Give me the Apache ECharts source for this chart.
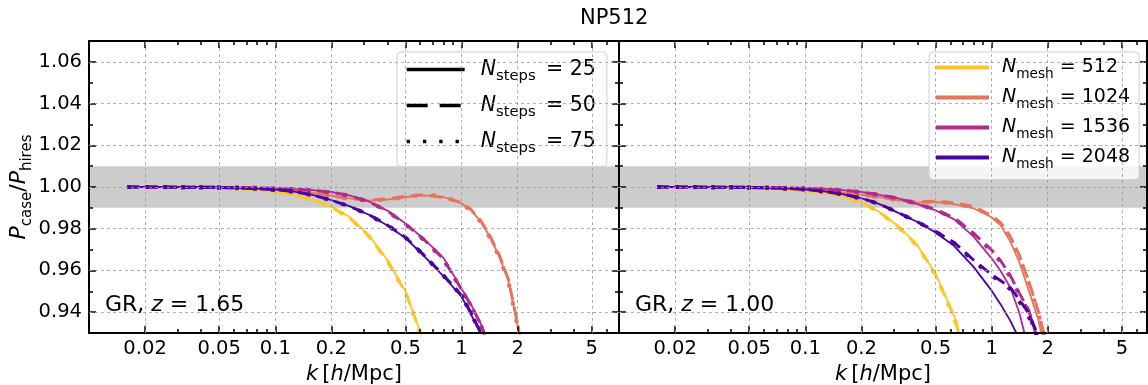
<!DOCTYPE html>
<html>
<head>
<meta charset="utf-8">
<script src="https://cdn.jsdelivr.net/npm/echarts@6/dist/echarts.min.js"></script>
<style>
  html, body { margin: 0; padding: 0; background: #fff; }
  #chart { width: 1148px; height: 385px; }
</style>
</head>
<body>
<div id="chart"></div>
<script>
// Wavenumber bins shared by every curve, in h/Mpc
const kBins = [0.016, 0.02, 0.025, 0.032, 0.04, 0.05, 0.063, 0.08, 0.1, 0.126, 0.158, 0.2, 0.25, 0.316, 0.4, 0.5, 0.63, 0.8, 1.0, 1.12, 1.26, 1.41, 1.58, 1.78, 2.0, 2.24];

const meshLabels = ['512', '1024', '1536', '2048'];
const stepLabels = ['25', '50', '75'];
const meshColors = ['#fcc626', '#e8725a', '#b12a90', '#4a04a0'];
const redshiftLabels = ['1.65', '1.00'];

const xMajorTicks = [0.02, 0.05, 0.1, 0.2, 0.5, 1, 2, 5];
const xMinorTicks = [0.03, 0.04, 0.06, 0.07, 0.08, 0.09, 0.3, 0.4, 0.6, 0.7, 0.8, 0.9, 3, 4, 6, 7];
const yMajorTicks = [0.94, 0.96, 0.98, 1.00, 1.02, 1.04, 1.06];
const yMinorTicks = [0.95, 0.97, 0.99, 1.01, 1.03, 1.05];

// P_case / P_hires at z = 1.65
const z165_512_s25 = [1.0000,1.0000,0.9999,0.9999,0.9998,0.9996,0.9993,0.9988,0.9979,0.9964,0.9940,0.9906,0.9857,0.9772,0.9650,0.9500,0.9255,0.8900,0.8500,0.8250,0.8000,0.7700,0.7400,0.7100,0.6800,0.6500];
const z165_512_s50 = [1.0000,1.0000,0.9999,0.9999,0.9998,0.9996,0.9993,0.9987,0.9978,0.9963,0.9938,0.9904,0.9853,0.9768,0.9646,0.9495,0.9250,0.8895,0.8495,0.8245,0.7995,0.7695,0.7395,0.7095,0.6795,0.6495];
const z165_512_s75 = [1.0000,1.0000,0.9999,0.9999,0.9998,0.9996,0.9992,0.9987,0.9978,0.9962,0.9938,0.9903,0.9852,0.9767,0.9644,0.9493,0.9248,0.8890,0.8490,0.8240,0.7990,0.7690,0.7390,0.7090,0.6790,0.6490];

const z165_1024_s25 = [1.0000,1.0000,0.9999,0.9999,0.9998,0.9997,0.9995,0.9993,0.9990,0.9983,0.9972,0.9958,0.9945,0.9935,0.9940,0.9952,0.9960,0.9952,0.9922,0.9890,0.9838,0.9765,0.9675,0.9555,0.9335,0.9050];
const z165_1024_s50 = [1.0000,1.0000,0.9999,0.9999,0.9998,0.9997,0.9995,0.9992,0.9989,0.9982,0.9971,0.9957,0.9944,0.9936,0.9943,0.9956,0.9963,0.9950,0.9925,0.9893,0.9842,0.9770,0.9682,0.9560,0.9345,0.9060];
const z165_1024_s75 = [1.0000,1.0000,0.9999,0.9999,0.9998,0.9997,0.9994,0.9992,0.9989,0.9981,0.9970,0.9956,0.9943,0.9934,0.9941,0.9950,0.9965,0.9955,0.9920,0.9888,0.9835,0.9762,0.9670,0.9550,0.9330,0.9045];

const z165_1536_s25 = [1.0000,1.0000,1.0000,0.9999,0.9999,0.9998,0.9997,0.9996,0.9994,0.9990,0.9985,0.9976,0.9960,0.9932,0.9887,0.9825,0.9750,0.9660,0.9512,0.9440,0.9350,0.9240,0.9110,0.8950,0.8750,0.8550];
const z165_1536_s50 = [1.0000,1.0000,1.0000,0.9999,0.9999,0.9998,0.9997,0.9996,0.9994,0.9990,0.9984,0.9975,0.9959,0.9931,0.9885,0.9822,0.9747,0.9655,0.9508,0.9436,0.9347,0.9238,0.9105,0.8945,0.8745,0.8545];
const z165_1536_s75 = [1.0000,1.0000,1.0000,0.9999,0.9999,0.9998,0.9997,0.9996,0.9993,0.9990,0.9984,0.9974,0.9958,0.9930,0.9884,0.9820,0.9745,0.9652,0.9505,0.9433,0.9344,0.9235,0.9100,0.8940,0.8740,0.8540];

const z165_2048_s25 = [1.0000,1.0000,1.0000,0.9999,0.9999,0.9998,0.9996,0.9992,0.9987,0.9978,0.9962,0.9937,0.9908,0.9868,0.9815,0.9756,0.9668,0.9572,0.9474,0.9392,0.9300,0.9210,0.9080,0.8930,0.8750,0.8550];
const z165_2048_s50 = [1.0000,1.0000,1.0000,0.9999,0.9999,0.9998,0.9996,0.9992,0.9987,0.9978,0.9962,0.9936,0.9908,0.9869,0.9817,0.9759,0.9672,0.9577,0.9480,0.9398,0.9306,0.9215,0.9085,0.8935,0.8755,0.8555];
const z165_2048_s75 = [1.0000,1.0000,1.0000,0.9999,0.9999,0.9998,0.9996,0.9991,0.9986,0.9977,0.9961,0.9936,0.9907,0.9868,0.9816,0.9758,0.9670,0.9575,0.9478,0.9396,0.9304,0.9213,0.9083,0.8933,0.8753,0.8553];

// P_case / P_hires at z = 1.00
const z100_512_s25 = [1.0000,1.0000,0.9999,0.9999,0.9998,0.9996,0.9993,0.9989,0.9983,0.9973,0.9958,0.9927,0.9880,0.9812,0.9720,0.9583,0.9380,0.9050,0.8700,0.8500,0.8250,0.8000,0.7700,0.7400,0.7100,0.6800];
const z100_512_s50 = [1.0000,1.0000,0.9999,0.9999,0.9998,0.9996,0.9993,0.9989,0.9982,0.9972,0.9957,0.9926,0.9879,0.9810,0.9718,0.9580,0.9377,0.9045,0.8695,0.8495,0.8245,0.7995,0.7695,0.7395,0.7095,0.6795];
const z100_512_s75 = [1.0000,1.0000,0.9999,0.9999,0.9998,0.9996,0.9992,0.9988,0.9982,0.9972,0.9956,0.9925,0.9878,0.9809,0.9716,0.9578,0.9374,0.9042,0.8690,0.8490,0.8240,0.7990,0.7690,0.7390,0.7090,0.6790];

const z100_1024_s25 = [1.0000,1.0000,0.9999,0.9999,0.9998,0.9997,0.9995,0.9993,0.9989,0.9983,0.9973,0.9962,0.9951,0.9936,0.9925,0.9928,0.9918,0.9898,0.9855,0.9815,0.9738,0.9638,0.9505,0.9365,0.9150,0.8900];
const z100_1024_s50 = [1.0000,1.0000,0.9999,0.9999,0.9998,0.9997,0.9995,0.9993,0.9989,0.9983,0.9973,0.9962,0.9952,0.9938,0.9928,0.9932,0.9924,0.9906,0.9862,0.9828,0.9762,0.9672,0.9548,0.9405,0.9220,0.9000];
const z100_1024_s75 = [1.0000,1.0000,0.9999,0.9999,0.9998,0.9997,0.9995,0.9992,0.9989,0.9982,0.9972,0.9961,0.9951,0.9937,0.9927,0.9930,0.9921,0.9903,0.9860,0.9825,0.9755,0.9665,0.9540,0.9395,0.9210,0.8990];

const z100_1536_s25 = [1.0000,1.0000,1.0000,0.9999,0.9999,0.9998,0.9997,0.9996,0.9994,0.9991,0.9985,0.9976,0.9962,0.9945,0.9918,0.9888,0.9845,0.9762,0.9658,0.9596,0.9518,0.9395,0.9220,0.9000,0.8800,0.8600];
const z100_1536_s50 = [1.0000,1.0000,1.0000,0.9999,0.9999,0.9998,0.9997,0.9996,0.9994,0.9991,0.9985,0.9976,0.9963,0.9945,0.9918,0.9893,0.9852,0.9778,0.9698,0.9645,0.9575,0.9490,0.9410,0.9260,0.9050,0.8800];
const z100_1536_s75 = [1.0000,1.0000,1.0000,0.9999,0.9999,0.9998,0.9997,0.9995,0.9994,0.9990,0.9984,0.9975,0.9962,0.9944,0.9918,0.9891,0.9849,0.9775,0.9692,0.9640,0.9568,0.9484,0.9400,0.9250,0.9040,0.8790];

const z100_2048_s25 = [1.0000,1.0000,1.0000,0.9999,0.9999,0.9998,0.9996,0.9993,0.9988,0.9979,0.9966,0.9946,0.9918,0.9876,0.9832,0.9782,0.9717,0.9617,0.9503,0.9436,0.9358,0.9270,0.9150,0.9000,0.8800,0.8600];
const z100_2048_s50 = [1.0000,1.0000,1.0000,0.9999,0.9999,0.9998,0.9996,0.9993,0.9988,0.9979,0.9966,0.9946,0.9919,0.9877,0.9833,0.9788,0.9733,0.9650,0.9580,0.9550,0.9518,0.9460,0.9395,0.9285,0.9100,0.8900];
const z100_2048_s75 = [1.0000,1.0000,1.0000,0.9999,0.9999,0.9998,0.9996,0.9992,0.9988,0.9978,0.9965,0.9945,0.9918,0.9876,0.9832,0.9786,0.9730,0.9645,0.9575,0.9545,0.9510,0.9450,0.9380,0.9270,0.9090,0.8890];

const panelCurves = [
  [[z165_512_s25, z165_512_s50, z165_512_s75],
   [z165_1024_s25, z165_1024_s50, z165_1024_s75],
   [z165_1536_s25, z165_1536_s50, z165_1536_s75],
   [z165_2048_s25, z165_2048_s50, z165_2048_s75]],
  [[z100_512_s25, z100_512_s50, z100_512_s75],
   [z100_1024_s25, z100_1024_s50, z100_1024_s75],
   [z100_1536_s25, z100_1536_s50, z100_1536_s75],
   [z100_2048_s25, z100_2048_s50, z100_2048_s75]]
];

// Line style per number of time steps
const stepStyles = [
  { type: 'solid', width: 1.8 },
  { type: [12, 7], width: 3 },
  { type: [4, 14], width: 4 }
];
const stepLegendStyles = [
  { type: 'solid', width: 3.3 },
  { type: [21, 12], width: 3.3 },
  { type: [3.3, 13], width: 3.3 }
];

const FONT = 'DejaVu Sans';
const gridBoxes = [
  { left: 89, top: 41, width: 530, height: 292, xMax: 7.0 },
  { left: 619, top: 41, width: 528, height: 292, xMax: 6.82 }
];

const chart = echarts.init(document.getElementById('chart'), null, { renderer: 'canvas' });

const frame = { show: true, onZero: false, lineStyle: { color: '#000', width: 2 } };
const tickStyle = { color: '#000', width: 1.5 };

const grid = [];
const xAxis = [];
const yAxis = [];
const series = [];

gridBoxes.forEach((g, gi) => {
  grid.push({ left: g.left, top: g.top, width: g.width, height: g.height,
              containLabel: false, outerBoundsMode: 'none' });
  const xBase = { type: 'log', logBase: 10, min: 0.01, max: g.xMax, gridIndex: gi, z: 3,
                  splitLine: { show: false }, minorTick: { show: false }, minorSplitLine: { show: false } };
  const xi = xAxis.length;
  // bottom: frame, major ticks, labels, axis title
  xAxis.push(Object.assign({}, xBase, {
    position: 'bottom', axisLine: frame,
    axisTick: { show: true, inside: true, length: 7, customValues: xMajorTicks, lineStyle: tickStyle },
    axisLabel: { show: true, customValues: xMajorTicks, margin: 6, color: '#000', fontFamily: FONT, fontSize: 19.5,
                 formatter: v => String(+(+v).toPrecision(3)) },
    name: '{i|k}{t|\u2009[}{i|h}{t|/Mpc]}', nameLocation: 'middle', nameGap: 26,
    nameTextStyle: { color: '#000', fontFamily: FONT, fontSize: 21,
      rich: { i: { fontStyle: 'italic', fontFamily: FONT, fontSize: 21, color: '#000' },
              t: { fontFamily: FONT, fontSize: 21, color: '#000' } } }
  }));
  // bottom minor ticks
  xAxis.push(Object.assign({}, xBase, {
    position: 'bottom', axisLine: { show: false },
    axisTick: { show: true, inside: true, length: 4, customValues: xMinorTicks, lineStyle: tickStyle },
    axisLabel: { show: false }
  }));
  // top frame + ticks
  xAxis.push(Object.assign({}, xBase, {
    position: 'top', axisLine: frame,
    axisTick: { show: true, inside: true, length: 7, customValues: xMajorTicks, lineStyle: tickStyle },
    axisLabel: { show: false }
  }));
  xAxis.push(Object.assign({}, xBase, {
    position: 'top', axisLine: { show: false },
    axisTick: { show: true, inside: true, length: 4, customValues: xMinorTicks, lineStyle: tickStyle },
    axisLabel: { show: false }
  }));

  const yBase = { type: 'value', min: 0.93, max: 1.07, gridIndex: gi, z: 3, splitLine: { show: false } };
  const yi = yAxis.length;
  yAxis.push(Object.assign({}, yBase, {
    position: 'left', axisLine: frame,
    axisTick: { show: true, inside: true, length: 7, customValues: yMajorTicks, lineStyle: tickStyle },
    axisLabel: { show: gi === 0, customValues: yMajorTicks, margin: 7, color: '#000', fontFamily: FONT, fontSize: 19.5,
                 formatter: v => (+v).toFixed(2) },
    name: gi === 0 ? '{i|P}{s|case}{t|/}{i|P}{s|hires}' : '',
    nameLocation: 'middle', nameRotate: 90, nameGap: 54,
    nameTextStyle: { color: '#000', fontFamily: FONT, fontSize: 21,
      rich: { i: { fontStyle: 'italic', fontFamily: FONT, fontSize: 22, color: '#000', lineHeight: 30, verticalAlign: 'middle' },
              s: { fontFamily: FONT, fontSize: 15, color: '#000', lineHeight: 30, verticalAlign: 'bottom' },
              t: { fontFamily: FONT, fontSize: 22, color: '#000', lineHeight: 30, verticalAlign: 'middle' } } }
  }));
  yAxis.push(Object.assign({}, yBase, {
    position: 'left', axisLine: { show: false },
    axisTick: { show: true, inside: true, length: 4, customValues: yMinorTicks, lineStyle: tickStyle },
    axisLabel: { show: false }
  }));
  yAxis.push(Object.assign({}, yBase, {
    position: 'right', axisLine: frame,
    axisTick: { show: true, inside: true, length: 7, customValues: yMajorTicks, lineStyle: tickStyle },
    axisLabel: { show: false }
  }));
  yAxis.push(Object.assign({}, yBase, {
    position: 'right', axisLine: { show: false },
    axisTick: { show: true, inside: true, length: 4, customValues: yMinorTicks, lineStyle: tickStyle },
    axisLabel: { show: false }
  }));

  // shaded 1% band
  series.push({
    type: 'line', xAxisIndex: xi, yAxisIndex: yi, data: [], z: 0, silent: true,
    markArea: { silent: true, itemStyle: { color: '#cccccc' },
                data: [[{ yAxis: 0.99 }, { yAxis: 1.01 }]] }
  });
  // dashed grid
  series.push({
    type: 'line', xAxisIndex: xi, yAxisIndex: yi, data: [], z: 1, silent: true,
    markLine: { silent: true, symbol: ['none', 'none'], animation: false,
                label: { show: false },
                lineStyle: { color: '#9c9c9c', width: 0.8, type: [3, 3] },
                data: xMajorTicks.map(v => ({ xAxis: v })).concat(yMajorTicks.map(v => ({ yAxis: v }))) }
  });

  panelCurves[gi].forEach((byStep, mi) => {
    byStep.forEach((vals, si) => {
      series.push({
        type: 'line', name: 'z' + redshiftLabels[gi] + ' mesh ' + meshLabels[mi] + ' steps ' + stepLabels[si],
        xAxisIndex: xi, yAxisIndex: yi, z: 2,
        data: kBins.map((k, i) => [k, vals[i]]),
        symbol: 'none', clip: true,
        lineStyle: { color: meshColors[mi], width: stepStyles[si].width, type: stepStyles[si].type }
      });
    });
  });
});

// legend entries: line style per step count (left), colour per mesh (right)
stepLabels.forEach((s, si) => {
  series.push({ type: 'line', name: s, xAxisIndex: 0, yAxisIndex: 0, data: [], symbol: 'circle',
    itemStyle: { color: '#000' },
    lineStyle: { color: '#000', width: stepLegendStyles[si].width, type: stepLegendStyles[si].type } });
});
meshLabels.forEach((m, mi) => {
  series.push({ type: 'line', name: m, xAxisIndex: 4, yAxisIndex: 4, data: [], symbol: 'circle',
    itemStyle: { color: meshColors[mi] },
    lineStyle: { color: meshColors[mi], width: 4, type: 'solid' } });
});

const legendRich = (size, pad, gap) => ({
  i: { fontStyle: 'italic', fontFamily: FONT, fontSize: size, color: '#000', lineHeight: 28, verticalAlign: 'middle', padding: [0, 0, 0, pad] },
  s: { fontFamily: FONT, fontSize: size * 0.72, color: '#000', lineHeight: 28, verticalAlign: 'bottom', padding: [0, gap, 0, 0] },
  t: { fontFamily: FONT, fontSize: size, color: '#000', lineHeight: 28, verticalAlign: 'middle' }
});

const legend = [
  {
    data: stepLabels.map((s, si) => ({ name: s, lineStyle: { width: stepLegendStyles[si].width } })),
    orient: 'vertical', left: 397, top: 52, selectedMode: false,
    itemWidth: 58, itemHeight: 14, itemGap: 11.5,
    padding: [7, 11, 11, 8],
    backgroundColor: 'rgba(255,255,255,0.8)', borderColor: '#d0d0d0', borderWidth: 1, borderRadius: 4,
    itemStyle: { opacity: 0 },
    lineStyle: { width: 3.3 },
    formatter: n => '{i|N}{s|steps}{t| = ' + n + '}',
    textStyle: { rich: legendRich(20.5, 11, 4) }
  },
  {
    data: meshLabels.map(m => ({ name: m, lineStyle: { width: 4 } })),
    orient: 'vertical', left: 929, top: 52, selectedMode: false,
    itemWidth: 53, itemHeight: 14, itemGap: 6.5,
    padding: [6, 9, 8, 5],
    backgroundColor: 'rgba(255,255,255,0.8)', borderColor: '#d0d0d0', borderWidth: 1, borderRadius: 4,
    itemStyle: { opacity: 0 },
    lineStyle: { width: 4 },
    formatter: n => '{i|N}{s|mesh}{t| = ' + n + '}',
    textStyle: { rich: legendRich(19, 8, 0) }
  }
];

const graphic = [
  { type: 'text', left: 580, top: 8, z: 10,
    style: { text: 'NP512', font: '21px "DejaVu Sans"', fill: '#000' } },
  { type: 'text', left: 105, top: 294, z: 10,
    style: { text: 'GR, {i|z}{t| = ' + redshiftLabels[0] + '}', font: '22px "DejaVu Sans"', fill: '#000',
             rich: { i: { fontStyle: 'italic', fontFamily: FONT, fontSize: 22 }, t: { fontFamily: FONT, fontSize: 22 } } } },
  { type: 'text', left: 635, top: 294, z: 10,
    style: { text: 'GR, {i|z}{t| = ' + redshiftLabels[1] + '}', font: '22px "DejaVu Sans"', fill: '#000',
             rich: { i: { fontStyle: 'italic', fontFamily: FONT, fontSize: 22 }, t: { fontFamily: FONT, fontSize: 22 } } } }
];

chart.setOption({
  animation: false,
  backgroundColor: '#fff',
  textStyle: { fontFamily: FONT },
  grid, xAxis, yAxis, series, legend, graphic
});
</script>
</body>
</html>
